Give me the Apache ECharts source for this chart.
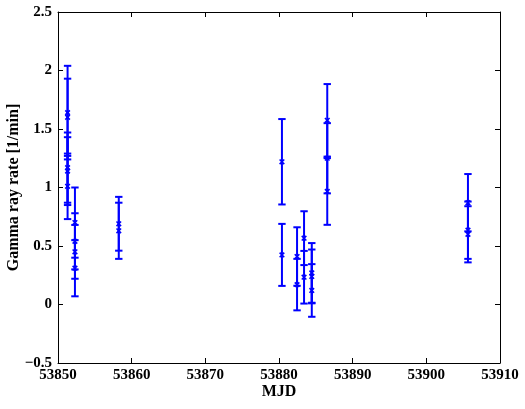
<!DOCTYPE html>
<html>
<head>
<meta charset="utf-8">
<script src="https://cdn.jsdelivr.net/npm/echarts@6/dist/echarts.min.js"></script>
<style>
  html, body { margin: 0; padding: 0; background: #fff; }
  #chart { width: 525px; height: 409px; }
</style>
</head>
<body>
<div id="chart"></div>
<script>
// MJD of each measurement
const mjd = [
  53851.3, 53851.3, 53851.3, 53851.3, 53851.3,
  53852.3, 53852.3, 53852.3, 53852.3,
  53858.25, 53858.25,
  53880.4, 53880.4,
  53882.45, 53882.45,
  53883.4, 53883.4,
  53884.45, 53884.45, 53884.45,
  53886.55, 53886.55, 53886.55,
  53905.65, 53905.65, 53905.65
]
// gamma ray rate [1/min]
const rate = [
  1.64, 1.60, 1.17, 1.14, 1.01,
  0.70, 0.54, 0.45, 0.31,
  0.69, 0.63,
  1.22, 0.424,
  0.41, 0.17,
  0.567, 0.233,
  0.27, 0.24, 0.12,
  1.574, 1.25, 0.966,
  0.87, 0.635, 0.60
]
// symmetric error
const err = [
  0.40, 0.33, 0.30, 0.29, 0.28,
  0.30, 0.24, 0.23, 0.24,
  0.23, 0.24,
  0.365, 0.265,
  0.25, 0.22,
  0.23, 0.225,
  0.255, 0.23, 0.225,
  0.31, 0.30, 0.285,
  0.245, 0.245, 0.24
]

const blue = '#0000ff'
const font = { fontFamily: 'Liberation Serif', fontWeight: 'bold', fontSize: 15, color: '#000' }

const data = mjd.map((x, i) => [x, rate[i], err[i]])

function fmt(v) {
  return v < 0 ? '\u2212' + Math.abs(v) : String(v)
}

// 误差棒 + 标记
function renderItem(params, api) {
  const x = api.value(0)
  const y = api.value(1)
  const e = api.value(2)
  const lo = api.coord([x, y - e])
  const hi = api.coord([x, y + e])
  const c = api.coord([x, y])
  const cw = 3.7
  const m = 2.3
  const style = { stroke: blue, lineWidth: 2 }
  return {
    type: 'group',
    children: [
      { type: 'line', shape: { x1: lo[0], y1: lo[1], x2: hi[0], y2: hi[1] }, style },
      { type: 'line', shape: { x1: lo[0] - cw, y1: lo[1], x2: lo[0] + cw, y2: lo[1] }, style },
      { type: 'line', shape: { x1: hi[0] - cw, y1: hi[1], x2: hi[0] + cw, y2: hi[1] }, style },
      { type: 'line', shape: { x1: c[0] - m, y1: c[1] - m, x2: c[0] + m, y2: c[1] + m }, style: { stroke: blue, lineWidth: 1.6 } },
      { type: 'line', shape: { x1: c[0] - m, y1: c[1] + m, x2: c[0] + m, y2: c[1] - m }, style: { stroke: blue, lineWidth: 1.6 } }
    ]
  }
}

const chart = echarts.init(document.getElementById('chart'))

const axisLine = { show: true, onZero: false, lineStyle: { color: '#000', width: 1 } }
const axisTick = { show: true, inside: true, length: 5, lineStyle: { color: '#000' } }

const option = {
  animation: false,
  grid: { left: 58, right: 25, top: 12, bottom: 46, outerBoundsMode: 'none' },
  xAxis: [
    {
      type: 'value', min: 53850, max: 53910, interval: 10,
      name: 'MJD', nameLocation: 'middle', nameGap: 21, nameMoveOverlap: false,
      nameTextStyle: { ...font, fontSize: 16 },
      axisLine, axisTick, splitLine: { show: false },
      axisLabel: { ...font, margin: 5, formatter: fmt }
    },
    {
      type: 'value', position: 'top', min: 53850, max: 53910, interval: 10,
      axisLine, axisTick, splitLine: { show: false }, axisLabel: { show: false }
    }
  ],
  yAxis: [
    {
      type: 'value', min: -0.5, max: 2.5, interval: 0.5,
      name: 'Gamma ray rate [1/min]', nameLocation: 'middle', nameGap: 36, nameMoveOverlap: false,
      nameTextStyle: { ...font, fontSize: 16 },
      axisLine, axisTick, splitLine: { show: false },
      axisLabel: { ...font, margin: 6, formatter: fmt }
    },
    {
      type: 'value', position: 'right', min: -0.5, max: 2.5, interval: 0.5,
      axisLine, axisTick, splitLine: { show: false }, axisLabel: { show: false }
    }
  ],
  series: [
    {
      type: 'custom',
      renderItem,
      encode: { x: 0, y: 1 },
      data
    }
  ]
}

chart.setOption(option)
</script>
</body>
</html>
